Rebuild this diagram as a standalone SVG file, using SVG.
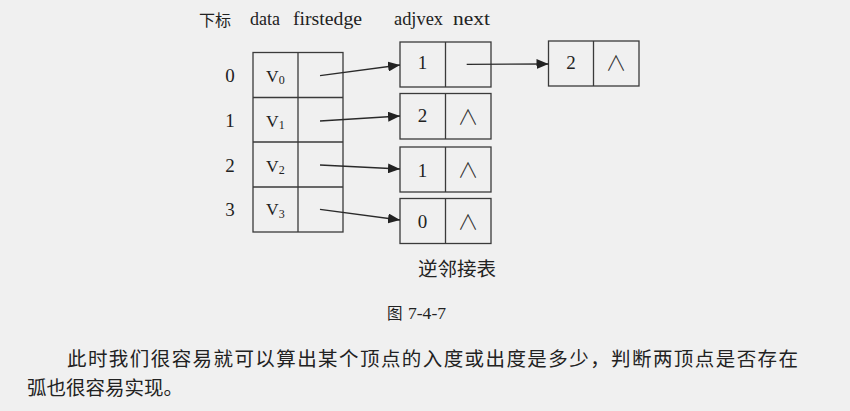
<svg xmlns="http://www.w3.org/2000/svg" width="850" height="411" viewBox="0 0 850 411">
  <defs>
    <style>
      .box { fill: none; stroke: #3a3a3a; stroke-width: 1.3; }
      .edge { stroke: #2a2a2a; stroke-width: 1.3; fill: none; }
      .lat { font-family: "Liberation Serif", "Times New Roman", serif; fill: #222; }
      .cjk { font-family: "Noto Sans CJK SC", "Noto Sans", sans-serif; fill: #222; }
      .nil { font-family: "Noto Sans CJK SC", "DejaVu Sans", sans-serif; font-weight: 300; fill: #333; font-size: 21px; text-anchor: middle; }
      .num { font-size: 19px; text-anchor: middle; }
      .v { font-size: 17.5px; }
      .sub { font-size: 12px; }
      .hd { font-size: 19px; }
    </style>
    <marker id="ah" markerUnits="userSpaceOnUse" markerWidth="13" markerHeight="10" refX="12" refY="5" orient="auto">
      <path d="M0,0 L12,5 L0,10 z" fill="#222"/>
    </marker>
  </defs>
  <rect width="850" height="411" fill="#f0f0f0"/>

  <g id="headers">
    <text class="cjk" x="199" y="26" font-size="16">下标</text>
    <text class="lat hd" x="250" y="25" textLength="30" lengthAdjust="spacingAndGlyphs">data</text>
    <text class="lat hd" x="293" y="25" textLength="69" lengthAdjust="spacingAndGlyphs">firstedge</text>
    <text class="lat hd" x="394" y="25" textLength="49" lengthAdjust="spacingAndGlyphs">adjvex</text>
    <text class="lat hd" x="453" y="25" textLength="37" lengthAdjust="spacingAndGlyphs">next</text>
  </g>

  <g id="indices">
    <text class="lat num" x="230" y="81.5">0</text>
    <text class="lat num" x="230" y="126.5">1</text>
    <text class="lat num" x="230" y="171.5">2</text>
    <text class="lat num" x="230" y="215.5">3</text>
  </g>

  <g id="vertex-table">
    <rect class="box" x="253" y="52.5" width="90" height="179.5"/>
    <line class="box" x1="298" y1="52.5" x2="298" y2="232"/>
    <line class="box" x1="253" y1="97.5" x2="343" y2="97.5"/>
    <line class="box" x1="253" y1="142" x2="343" y2="142"/>
    <line class="box" x1="253" y1="187" x2="343" y2="187"/>
    <text class="lat v" x="266" y="81.7">V<tspan class="sub" dy="2.5">0</tspan></text>
    <text class="lat v" x="266" y="126.5">V<tspan class="sub" dy="2.5">1</tspan></text>
    <text class="lat v" x="266" y="171.5">V<tspan class="sub" dy="2.5">2</tspan></text>
    <text class="lat v" x="266" y="215">V<tspan class="sub" dy="2.5">3</tspan></text>
  </g>

  <g id="edge-v0-a">
    <rect class="box" x="400" y="42" width="91" height="45"/>
    <line class="box" x1="445.5" y1="42" x2="445.5" y2="87"/>
    <text class="lat num" x="422.5" y="68.5">1</text>
  </g>
  <g id="edge-v0-b">
    <rect class="box" x="548.5" y="41" width="90.5" height="45"/>
    <line class="box" x1="593.5" y1="41" x2="593.5" y2="86"/>
    <text class="lat num" x="571" y="68.5">2</text>
    <text class="nil" x="616" y="70">∧</text>
  </g>
  <g id="edge-v1">
    <rect class="box" x="400" y="93.5" width="91" height="45.5"/>
    <line class="box" x1="445.5" y1="93.5" x2="445.5" y2="139"/>
    <text class="lat num" x="422.5" y="122">2</text>
    <text class="nil" x="468" y="124">∧</text>
  </g>
  <g id="edge-v2">
    <rect class="box" x="400" y="147" width="91" height="45"/>
    <line class="box" x1="445.5" y1="147" x2="445.5" y2="192"/>
    <text class="lat num" x="422.5" y="176.5">1</text>
    <text class="nil" x="468" y="177">∧</text>
  </g>
  <g id="edge-v3">
    <rect class="box" x="400" y="198.5" width="91" height="45"/>
    <line class="box" x1="445.5" y1="198.5" x2="445.5" y2="243.5"/>
    <text class="lat num" x="422.5" y="228">0</text>
    <text class="nil" x="468" y="228.5">∧</text>
  </g>

  <g id="connectors">
    <line class="edge" x1="320" y1="75.7" x2="400" y2="65" marker-end="url(#ah)"/>
    <line class="edge" x1="320" y1="121" x2="400" y2="116" marker-end="url(#ah)"/>
    <line class="edge" x1="320" y1="165" x2="400" y2="169" marker-end="url(#ah)"/>
    <line class="edge" x1="320" y1="209.3" x2="400" y2="220" marker-end="url(#ah)"/>
    <line class="edge" x1="466.7" y1="64.3" x2="548.5" y2="64" marker-end="url(#ah)"/>
  </g>

  <g id="labels">
    <text class="cjk" x="418" y="276" font-size="19.5">逆邻接表</text>
    <text class="cjk" x="387" y="319" font-size="15.5">图</text>
    <text class="lat" x="408" y="319" font-size="17" textLength="38" lengthAdjust="spacingAndGlyphs">7-4-7</text>
  </g>

  <g id="paragraph">
    <text class="cjk" x="67" y="365.5" font-size="19.5" textLength="731" lengthAdjust="spacing">此时我们很容易就可以算出某个顶点的入度或出度是多少，判断两顶点是否存在</text>
    <text class="cjk" x="27" y="395" font-size="19.5">弧也很容易实现。</text>
  </g>
</svg>
